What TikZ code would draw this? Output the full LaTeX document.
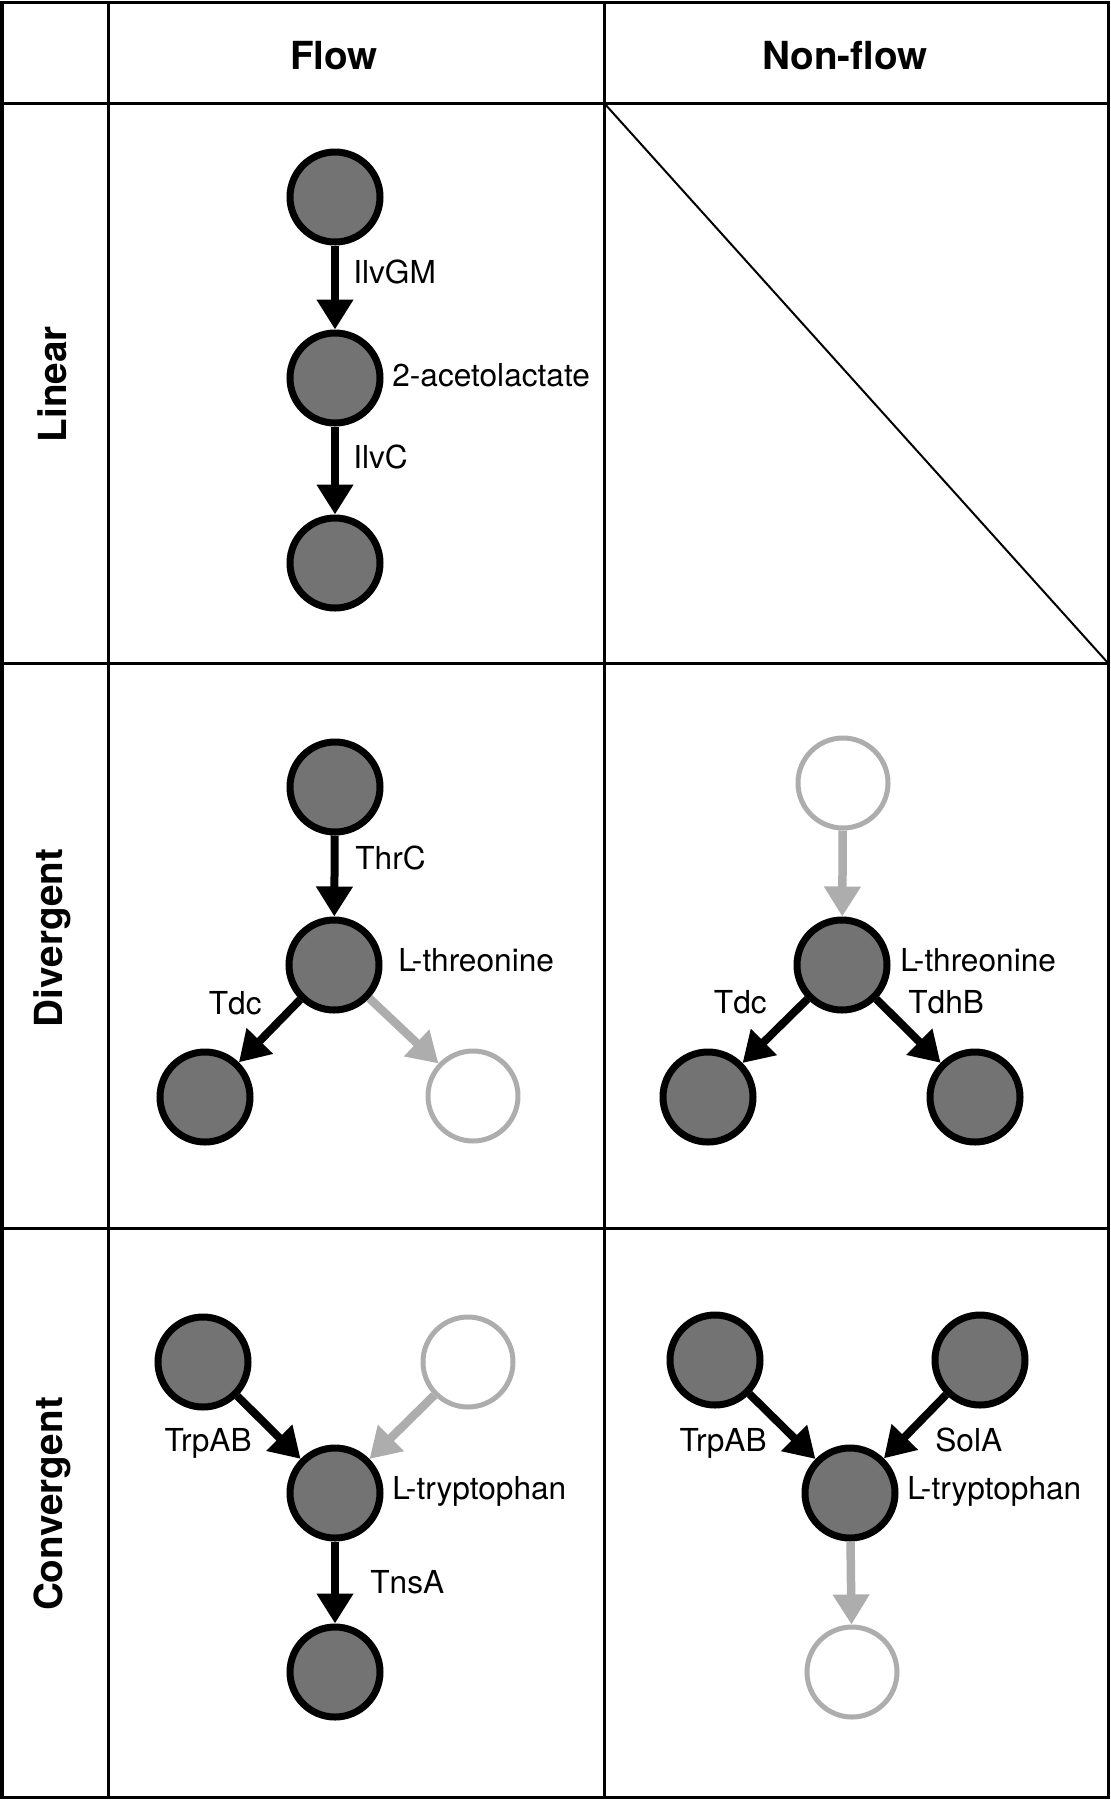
\documentclass[tikz,border=0pt]{standalone}
\usepackage{fontspec}
\setmainfont{TeX Gyre Heros}
\usetikzlibrary{arrows.meta}
\definecolor{metgray}{gray}{0.45}
\definecolor{ghostgray}{gray}{0.68}
\tikzset{
	met/.style={circle, draw=black, line width=1.4mm, fill=metgray, minimum size=18mm, inner sep=0pt},
	ghost/.style={circle, draw=ghostgray, line width=1mm, fill=white, minimum size=18mm, inner sep=0pt},
	rxn/.style={line width=1.6mm, -{Triangle[width=7mm,length=6mm]}},
	rxnoff/.style={rxn, draw=ghostgray, fill=ghostgray, line width=1.7mm},
	lbl/.style={font=\fontsize{18}{20}\selectfont, inner sep=0pt, text height=0.72em, text depth=0pt},
	head/.style={font=\fontsize{22}{25}\selectfont\bfseries, inner sep=0pt},
	tabline/.style={line width=0.6mm}
}

\begin{document}
\begin{tikzpicture}[x=0.2mm, y=-0.2mm]
			%%%%% START %%%%%
			\useasboundingbox (0, 0) rectangle (1111, 1800);
			
			\draw[tabline] (2, 2) rectangle (1108, 1797);
			\draw[tabline] (108, 2) -- (108, 1797);
			\draw[tabline] (604, 2) -- (604, 1797);
			\draw[tabline] (2, 103) -- (1108, 103);
			\draw[tabline] (2, 663) -- (1108, 663);
			\draw[tabline] (2, 1228) -- (1108, 1228);
			\draw[line width=0.4mm] (604, 103) -- (1108, 663);
			
			\node[head] (hflow) at (334, 56) {Flow};
			\node[head] (hnon) at (845, 56) {Non-flow};
			\node[head, rotate=90] (rlin) at (52, 384) {Linear};
			\node[head, rotate=90] (rdiv) at (52, 938) {Divergent};
			\node[head, rotate=90] (rcon) at (52, 1504) {Convergent};
			
			%%%%% LINEAR %%%%%
			\node[met] (l1) at (335, 197) {};
			\node[met] (l2) at (335, 378) {};
			\node[met] (l3) at (335, 563) {};
			\draw[rxn] (l1) -- (l2);
			\draw[rxn] (l2) -- (l3);
			\node[lbl, anchor=west] (ilvgm) at (353, 277) {IlvGM};
			\node[lbl, anchor=west] (acet) at (392, 380) {2-acetolactate};
			\node[lbl, anchor=west] (ilvc) at (353, 462) {IlvC};
			
			%%%%% DIVERGENT %%%%%
			\node[met] (d1) at (335, 787) {};
			\node[met] (d2) at (334, 965) {};
			\node[met] (d3) at (205, 1097) {};
			\node[ghost] (d4) at (473, 1096) {};
			\draw[rxn] (d1) -- (d2);
			\draw[rxn] (d2) -- (d3);
			\draw[rxnoff] (d2) -- (d4);
			\node[lbl, anchor=west] (thrc) at (355, 863) {ThrC};
			\node[lbl, anchor=west] (thr1) at (398, 965) {L-threonine};
			\node[lbl, anchor=east] (tdc1) at (262, 1008) {Tdc};
			
			\node[ghost] (e1) at (843, 783) {};
			\node[met] (e2) at (842, 965) {};
			\node[met] (e3) at (708, 1097) {};
			\node[met] (e4) at (975, 1097) {};
			\draw[rxnoff] (e1) -- (e2);
			\draw[rxn] (e2) -- (e3);
			\draw[rxn] (e2) -- (e4);
			\node[lbl, anchor=west] (thr2) at (900, 965) {L-threonine};
			\node[lbl, anchor=east] (tdc2) at (767, 1007) {Tdc};
			\node[lbl, anchor=west] (tdhb) at (908, 1007) {TdhB};
			
			%%%%% CONVERGENT %%%%%
			\node[met] (c1) at (203, 1362) {};
			\node[ghost] (c2) at (468, 1362) {};
			\node[met] (c3) at (335, 1493) {};
			\node[met] (c4) at (335, 1672) {};
			\draw[rxn] (c1) -- (c3);
			\draw[rxnoff] (c2) -- (c3);
			\draw[rxn] (c3) -- (c4);
			\node[lbl, anchor=east] (trp1) at (252, 1445) {TrpAB};
			\node[lbl, anchor=west] (ltrp1) at (392, 1493) {L-tryptophan};
			\node[lbl, anchor=west] (tnsa) at (370, 1587) {TnsA};
			
			\node[met] (k1) at (715, 1360) {};
			\node[met] (k2) at (980, 1360) {};
			\node[met] (k3) at (850, 1493) {};
			\node[ghost] (k4) at (852, 1672) {};
			\draw[rxn] (k1) -- (k3);
			\draw[rxn] (k2) -- (k3);
			\draw[rxnoff] (k3) -- (k4);
			\node[lbl, anchor=east] (trp2) at (767, 1445) {TrpAB};
			\node[lbl, anchor=west] (sola) at (935, 1445) {SolA};
			\node[lbl, anchor=west] (ltrp2) at (907, 1493) {L-tryptophan};
			%%%%% END %%%%%
\end{tikzpicture}
\end{document}
